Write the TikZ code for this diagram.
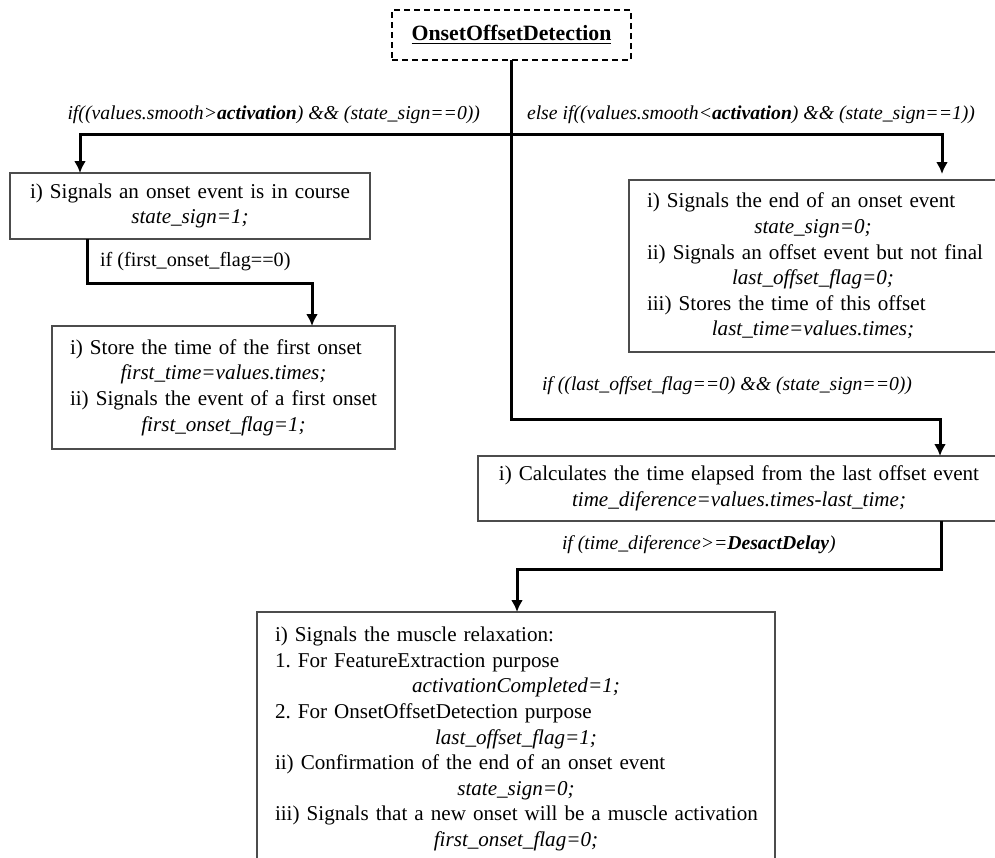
\documentclass[tikz,border=0pt]{standalone}
\usepackage{fontspec}
\setmainfont{Liberation Serif}
\usetikzlibrary{arrows.meta}
\frenchspacing

% one line of a box: plain item on the left, code in the middle
\newcommand{\itm}[1]{\makebox[\linewidth][l]{#1}}
\newcommand{\cen}[1]{\makebox[\linewidth][c]{#1}}
\newcommand{\cod}[1]{\makebox[\linewidth][c]{\itshape #1}}

\begin{document}
\begin{tikzpicture}[x=0.5pt, y=-0.5pt,
    every node/.style={font=\fontsize{10.55}{12.8}\selectfont, outer sep=0pt},
    box/.style={draw=black!70, line width=0.75pt, anchor=north west, inner xsep=9pt, inner ysep=0pt, align=left},
    cond/.style={font=\fontsize{9.85}{12}\selectfont\itshape, inner sep=0pt},
    flow/.style={line width=1.5pt, -{Latex[length=6pt,width=6pt]}}]

    \useasboundingbox (0,0) rectangle (995,857);
    \clip (0,0) rectangle (995,857);

    % main block
    \node[draw, dashed, line width=0.6pt, dash pattern=on 3pt off 2pt, minimum width=119.5pt, minimum height=25pt, font=\fontsize{10.9}{12.8}\selectfont] (main) at (511.5,35) {\underline{\textbf{OnsetOffsetDetection}}};

    % boxes
    \node[box, text width=162pt, minimum height=33pt] (onset) at (10,173) {\cen{i) Signals an onset event is in course}\\ \cod{state\_sign=1;}};
    \node[box, text width=153.5pt, minimum height=61.5pt] (first) at (52,326) {\itm{i) Store the time of the first onset}\\ \cod{first\_time=values.times;}\\ \itm{ii) Signals the event of a first onset}\\ \cod{first\_onset\_flag=1;}};
    \node[box, text width=166pt, minimum height=86pt] (offset) at (629,180) {\itm{i) Signals the end of an onset event}\\ \cod{state\_sign=0;}\\ \itm{ii) Signals an offset event but not final}\\ \cod{last\_offset\_flag=0;}\\ \itm{iii) Stores the time of this offset}\\ \cod{last\_time=values.times;}};
    \node[box, text width=243pt, minimum height=32.5pt] (calc) at (478,456) {\cen{i) Calculates the time elapsed from the last offset event}\\ \cod{time\_diference=values.times-last\_time;}};
    \node[box, text width=241pt, minimum height=127pt] (relax) at (257,612) {\itm{i) Signals the muscle relaxation:}\\ \itm{1. For FeatureExtraction purpose}\\ \cod{activationCompleted=1;}\\ \itm{2. For OnsetOffsetDetection purpose}\\ \cod{last\_offset\_flag=1;}\\ \itm{ii) Confirmation of the end of an onset event}\\ \cod{state\_sign=0;}\\ \itm{iii) Signals that a new onset will be a muscle activation}\\ \cod{first\_onset\_flag=0;}};

    % conditions
    \node[cond, anchor=east] (condOn) at (480,115) {if((values.smooth>\textbf{activation}) \&\& (state\_sign==0))};
    \node[cond, anchor=west] (condOff) at (527,115) {else if((values.smooth<\textbf{activation}) \&\& (state\_sign==1))};
    \node[cond, font=\fontsize{10.1}{12}\selectfont, anchor=west] (condFirst) at (100,262) {if (first\_onset\_flag==0)};
    \node[cond, anchor=west] (condLast) at (542,386) {if ((last\_offset\_flag==0) \&\& (state\_sign==0))};
    \node[cond, anchor=west] (condDelay) at (562,545) {if (time\_diference>=\textbf{DesactDelay})};

    % bends
    \coordinate (c1) at (80,134);
    \coordinate (c2) at (942,134);
    \coordinate (c3) at (940,419);
    \coordinate (c4) at (87,283);
    \coordinate (c5) at (312,283);
    \coordinate (c6) at (941,569);
    \coordinate (c7) at (517,569);

    % connectors
    \draw[flow] (main.south) |- (c3) -- (calc.north -| c3);
    \draw[flow] (main.south |- c1) -- (c1) -- (onset.north -| c1);
    \draw[flow, shorten >=3pt] (main.south |- c2) -- (c2) -- (offset.north -| c2);
    \draw[flow] (onset.south -| c4) -- (c4) -- (c5) -- (first.north -| c5);
    \draw[flow] (calc.south -| c6) -- (c6) -- (c7) -- (relax.north -| c7);
\end{tikzpicture}
\end{document}
